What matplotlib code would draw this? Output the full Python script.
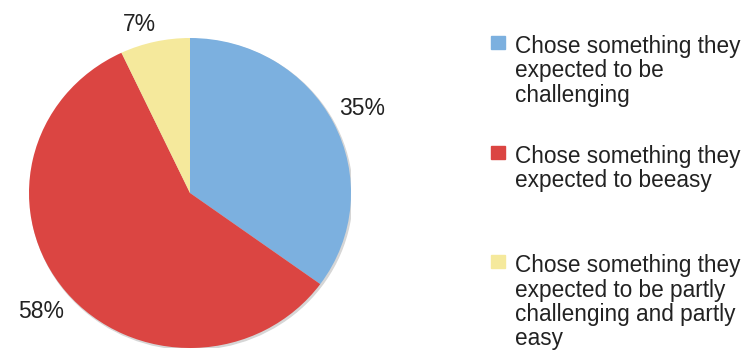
import matplotlib.pyplot as plt
from matplotlib.patches import Ellipse, Rectangle

plt.rcParams['font.family'] = ['Liberation Sans', 'DejaVu Sans']

shares = [35, 58, 7]
colors = ['#7cb0df', '#db4542', '#f5e99c']
labels = [
    'Chose something they\nexpected to be\nchallenging',
    'Chose something they\nexpected to beeasy',
    'Chose something they\nexpected to be partly\nchallenging and partly\neasy',
]

W, H = 744, 360
fig = plt.figure(figsize=(W / 100, H / 100), dpi=100)

# pie area, in pixels (slightly wider than tall)
cx, cy, rx, ry = 190, 193, 161, 155
ax = fig.add_axes([(cx - rx) / W, (H - cy - ry) / H, 2 * rx / W, 2 * ry / H])

# soft gray rim under the pie
ax.add_patch(Ellipse((0.008, -0.01), 2.0, 2.0, color='#d6d6d6', zorder=0))

wedges, texts, autotexts = ax.pie(
    shares, colors=colors, startangle=90, counterclock=False,
    autopct=lambda p: f'{p:.0f}%', pctdistance=1.2,
    wedgeprops=dict(linewidth=0),
    textprops=dict(fontsize=16.5, color='#222222'))
for w in wedges:
    w.set_zorder(1)
# the small slice's label sits a bit closer in
x7, y7 = autotexts[2].get_position()
autotexts[2].set_position((x7 * 0.93 - 0.07, y7 * 0.93))
ax.set_aspect('auto')
ax.set_xlim(-1, 1)
ax.set_ylim(-1, 1)

# legend drawn by hand: square marker + wrapped label
first_baseline = [53, 163, 272]
line_step = 24.5
for lab, col, yb in zip(labels, colors, first_baseline):
    ysq = yb - 11
    fig.patches.append(Rectangle((491 / W, (H - ysq - 7) / H), 14 / W, 13 / H,
                                 transform=fig.transFigure, color=col))
    for i, line in enumerate(lab.split('\n')):
        fig.text(515 / W, (H - yb - i * line_step) / H, line, fontsize=16.3,
                 color='#222222', va='baseline', ha='left')

fig.savefig('out.png', dpi=100, facecolor='white')
